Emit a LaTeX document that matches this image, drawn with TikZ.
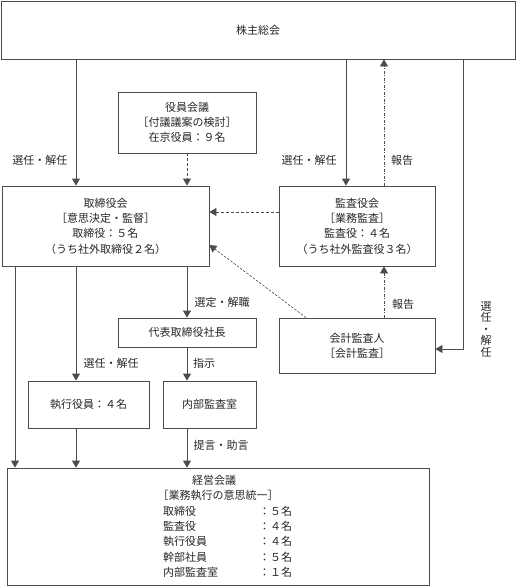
\documentclass[tikz,border=0pt]{standalone}
\usepackage{fontspec}
\setmainfont{Noto Sans CJK JP}
\usetikzlibrary{arrows.meta,calc}
\begin{document}
\begin{tikzpicture}[x=1pt,y=-1pt,
  every node/.style={font=\fontsize{11}{15.3}\selectfont, text=black!85},
  box/.style={draw=black!70, line width=0.8pt, inner sep=0pt, align=center},
  lbl/.style={inner sep=0pt, align=center},
  conn/.style={draw=black!70, line width=0.8pt},
  arr/.style={conn, -{Triangle[width=8pt,length=7pt]}},
  dsh/.style={arr, dash pattern=on 3pt off 2pt},
  fine/.style={arr, line width=0.6pt, dash pattern=on 2.5pt off 1.5pt},
  dashdot/.style={arr, line width=0.7pt, dash pattern=on 3pt off 1.5pt on 1pt off 1.5pt}]
\useasboundingbox (0,0) rectangle (517,586);
% boxes
\node[box, minimum width=514pt, minimum height=58pt] (sh) at (258,30) {株主総会};
\node[box, minimum width=138pt, minimum height=61pt] (yakuin) at (187,122.5) {役員会議\\［付議議案の検討］\\在京役員：９名};
\node[box, minimum width=207pt, minimum height=80pt] (tori) at (105.5,226) {取締役会\\［意思決定・監督］\\取締役：５名\\（うち社外取締役２名）};
\node[box, minimum width=156pt, minimum height=80pt] (kansa) at (357,226) {監査役会\\［業務監査］\\監査役：４名\\（うち社外監査役３名）};
\node[box, minimum width=156pt, minimum height=55pt] (kaikei) at (357,345.5) {会計監査人\\［会計監査］};
\node[box, minimum width=138pt, minimum height=29pt] (daihyo) at (187,332.5) {代表取締役社長};
\node[box, minimum width=121pt, minimum height=47pt] (shikko) at (88.5,404.5) {執行役員：４名};
\node[box, minimum width=93pt, minimum height=47pt] (naibu) at (209.5,404.5) {内部監査室};
\node[box, minimum width=422pt, minimum height=117pt] (keiei) at (218,526.5) {};
% keiei text
\node[lbl] (k1) at (214,480) {経営会議};
\node[lbl] (k2) at (218,495.5) {［業務執行の意思統一］};
\node[lbl, anchor=west] (r1) at (163,511) {取締役};
\node[lbl, anchor=west] (r2) at (163,526.3) {監査役};
\node[lbl, anchor=west] (r3) at (163,541.6) {執行役員};
\node[lbl, anchor=west] (r4) at (163,556.9) {幹部社員};
\node[lbl, anchor=west] (r5) at (163,572.2) {内部監査室};
\node[lbl, anchor=west] (v1) at (259,511) {：５名};
\node[lbl, anchor=west] (v2) at (259,526.3) {：４名};
\node[lbl, anchor=west] (v3) at (259,541.6) {：４名};
\node[lbl, anchor=west] (v4) at (259,556.9) {：５名};
\node[lbl, anchor=west] (v5) at (259,572.2) {：１名};
% x positions
\coordinate (xa) at (76,0);
\coordinate (xc) at (15,0);
\coordinate (xd) at (346,0);
\coordinate (xe) at (384,0);
\coordinate (xf) at (463,0);
\coordinate (yg) at (0,212);
\coordinate (yh) at (0,349);
\coordinate (xi) at (306,0);
\coordinate (yj) at (0,245);
% connectors
\draw[arr] (sh.south -| xa) -- (tori.north -| xa);
\draw[dsh] (yakuin.south) -- (tori.north -| yakuin.south);
\draw[arr] (sh.south -| xd) -- (kansa.north -| xd);
\draw[dashdot] (kansa.north -| xe) -- (sh.south -| xe);
\draw[arr] (sh.south -| xf) -- (xf |- yh) -- (kaikei.east |- yh);
\draw[dsh] (kansa.west |- yg) -- (tori.east |- yg);
\draw[fine] (kaikei.north -| xi) -- (tori.east |- yj);
\draw[dashdot] (kaikei.north -| xe) -- (kansa.south -| xe);
\draw[arr] (tori.south -| daihyo.north) -- (daihyo.north);
\draw[arr] (daihyo.south) -- (naibu.north -| daihyo.south);
\draw[arr] (tori.south -| xa) -- (shikko.north -| xa);
\draw[arr] (tori.south -| xc) -- (keiei.north -| xc);
\draw[arr] (shikko.south -| xa) -- (keiei.north -| xa);
\draw[arr] (naibu.south -| daihyo.south) -- (keiei.north -| daihyo.south);
% labels
\node[lbl] (l1) at (40,160) {選任・解任};
\node[lbl] (l2) at (309,160) {選任・解任};
\node[lbl] (l3) at (402,160) {報告};
\node[lbl] (l4) at (222,302) {選定・解職};
\node[lbl] (l5) at (403,304) {報告};
\node[lbl] (l6) at (111,363) {選任・解任};
\node[lbl] (l7) at (204,363) {指示};
\node[lbl] (l8) at (221,445) {提言・助言};
\node[lbl, font=\fontsize{11}{11.5}\selectfont] (l9) at (486,329) {選\\任\\・\\解\\任};
\end{tikzpicture}
\end{document}
